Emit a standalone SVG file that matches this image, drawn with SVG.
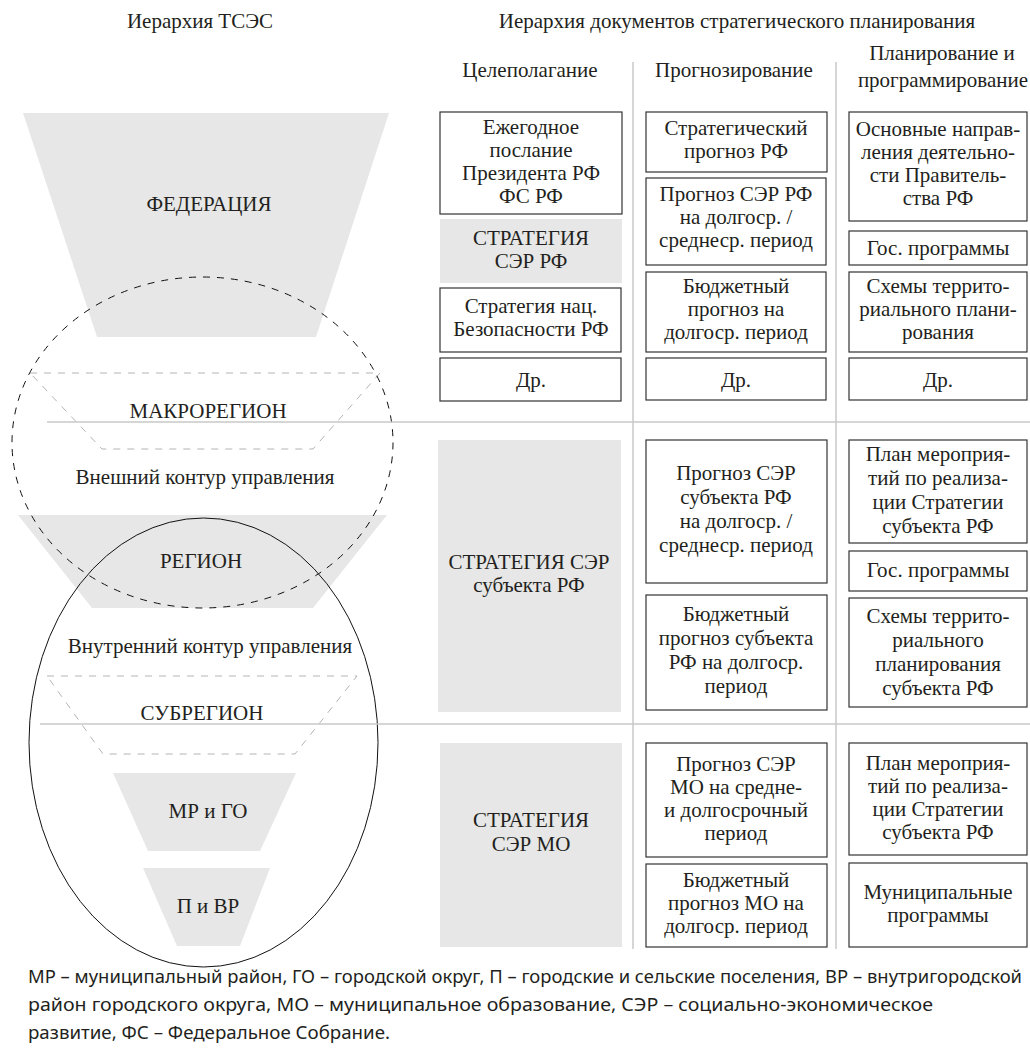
<svg xmlns="http://www.w3.org/2000/svg" width="1030" height="1050" viewBox="0 0 1030 1050">
<style>
.t{font-family:'Liberation Serif','Times New Roman',serif;font-size:21px;fill:#231f20;text-anchor:middle}
.fn{font-family:'Noto Sans','Open Sans',sans-serif;font-size:18px;fill:#231f20}
.box{fill:#fff;stroke:#333;stroke-width:1.2}
.gbox{fill:#e6e7e6;stroke:none}
.trap{fill:#e6e7e6;stroke:none}
.dtrap{fill:none;stroke:#b4b4b4;stroke-width:1;stroke-dasharray:7 7}
.grid{stroke:#c8c8c8;stroke-width:1.5;fill:none}
</style>
<rect width="1030" height="1050" fill="#fff"/>

<!-- left hierarchy -->
<g id="left-title"><text class="t" x="200" y="28">Иерархия ТСЭС</text></g>
<g id="federation">
<polygon class="trap" points="23,113 389,113 316,337 97,337"/>
<text class="t" x="209" y="211">ФЕДЕРАЦИЯ</text>
</g>
<g id="macroregion">
<polygon class="dtrap" points="30,373 380,373 313,449 102,449"/>
<text class="t" x="208" y="418">МАКРОРЕГИОН</text>
</g>
<g id="outer-contour-label"><text class="t" x="205" y="484">Внешний контур управления</text></g>
<g id="region">
<polygon class="trap" points="18,515 387,515 313,608 92,608"/>
<text class="t" x="201" y="568">РЕГИОН</text>
</g>
<g id="inner-contour-label"><text class="t" x="210" y="653">Внутренний контур управления</text></g>
<g id="subregion">
<polygon class="dtrap" points="47,676 357,676 295,754 103,754"/>
<text class="t" x="202" y="720">СУБРЕГИОН</text>
</g>
<g id="mr-go">
<polygon class="trap" points="113,773 296,773 260,851 148,851"/>
<text class="t" x="208" y="818">МР и ГО</text>
</g>
<g id="p-vr">
<polygon class="trap" points="143,868 270,868 240,946 177,946"/>
<text class="t" x="208" y="913">П и ВР</text>
</g>
<g id="outer-contour">
<ellipse cx="202.5" cy="442.5" rx="190.5" ry="165.5" fill="none" stroke="#111" stroke-width="1" stroke-dasharray="7 7"/>
</g>
<g id="inner-contour">
<ellipse cx="203.5" cy="742.5" rx="174.5" ry="224.5" fill="none" stroke="#111" stroke-width="1"/>
</g>

<!-- grid (connectors / separators) -->
<g id="connectors">
<line class="grid" x1="633" y1="62" x2="633" y2="949"/>
<line class="grid" x1="836" y1="62" x2="836" y2="949"/>
<line class="grid" x1="47" y1="422" x2="1030" y2="422"/>
<line class="grid" x1="40" y1="724" x2="1030" y2="724"/>
</g>

<!-- right headers -->
<g id="right-title"><text class="t" x="737" y="28">Иерархия документов стратегического планирования</text></g>
<g id="h-goal"><text class="t" x="530" y="77">Целеполагание</text></g>
<g id="h-forecast"><text class="t" x="734" y="77">Прогнозирование</text></g>
<g id="h-plan"><text class="t" x="942" y="60">Планирование и</text><text class="t" x="943" y="87">программирование</text></g>

<!-- row 1 col 1 -->
<g id="r1c1a"><rect class="box" x="440" y="112" width="182" height="102"/>
<text class="t" x="531" y="134">Ежегодное</text><text class="t" x="531" y="157">послание</text><text class="t" x="531" y="180">Президента РФ</text><text class="t" x="531" y="203">ФС РФ</text></g>
<g id="r1c1b"><rect class="gbox" x="440" y="219" width="182" height="64"/>
<text class="t" x="531" y="245">СТРАТЕГИЯ</text><text class="t" x="531" y="268">СЭР РФ</text></g>
<g id="r1c1c"><rect class="box" x="440" y="288" width="181" height="64"/>
<text class="t" x="531" y="313">Стратегия нац.</text><text class="t" x="531" y="336">Безопасности РФ</text></g>
<g id="r1c1d"><rect class="box" x="440" y="358" width="181" height="43"/>
<text class="t" x="531" y="387">Др.</text></g>

<!-- row 1 col 2 -->
<g id="r1c2a"><rect class="box" x="646" y="112" width="181" height="60"/>
<text class="t" x="736" y="135">Стратегический</text><text class="t" x="736" y="158">прогноз РФ</text></g>
<g id="r1c2b"><rect class="box" x="646" y="178" width="180" height="87"/>
<text class="t" x="736" y="201">Прогноз СЭР РФ</text><text class="t" x="736" y="224">на долгоср. /</text><text class="t" x="736" y="247">среднеср. период</text></g>
<g id="r1c2c"><rect class="box" x="646" y="272" width="180" height="80"/>
<text class="t" x="736" y="293">Бюджетный</text><text class="t" x="736" y="316">прогноз на</text><text class="t" x="736" y="339">долгоср. период</text></g>
<g id="r1c2d"><rect class="box" x="646" y="358" width="180" height="42"/>
<text class="t" x="736" y="387">Др.</text></g>

<!-- row 1 col 3 -->
<g id="r1c3a"><rect class="box" x="849" y="112" width="178" height="109"/>
<text class="t" x="938" y="136">Основные направ-</text><text class="t" x="938" y="159">ления деятельно-</text><text class="t" x="938" y="182">сти Правитель-</text><text class="t" x="938" y="205">ства РФ</text></g>
<g id="r1c3b"><rect class="box" x="849" y="231" width="178" height="34"/>
<text class="t" x="938" y="255">Гос. программы</text></g>
<g id="r1c3c"><rect class="box" x="849" y="272" width="178" height="80"/>
<text class="t" x="938" y="293">Схемы террито-</text><text class="t" x="938" y="316">риального плани-</text><text class="t" x="938" y="339">рования</text></g>
<g id="r1c3d"><rect class="box" x="849" y="358" width="178" height="42"/>
<text class="t" x="938" y="387">Др.</text></g>

<!-- row 2 -->
<g id="r2c1"><rect class="gbox" x="438" y="440" width="183" height="272"/>
<text class="t" x="529" y="569">СТРАТЕГИЯ СЭР</text><text class="t" x="529" y="592">субъекта РФ</text></g>
<g id="r2c2a"><rect class="box" x="646" y="440" width="181" height="143"/>
<text class="t" x="736" y="480">Прогноз СЭР</text><text class="t" x="736" y="504">субъекта РФ</text><text class="t" x="736" y="528">на долгоср. /</text><text class="t" x="736" y="552">среднеср. период</text></g>
<g id="r2c2b"><rect class="box" x="646" y="595" width="181" height="115"/>
<text class="t" x="736" y="621">Бюджетный</text><text class="t" x="736" y="645">прогноз субъекта</text><text class="t" x="736" y="669">РФ на долгоср.</text><text class="t" x="736" y="693">период</text></g>
<g id="r2c3a"><rect class="box" x="849" y="440" width="178" height="103"/>
<text class="t" x="938" y="461">План мероприя-</text><text class="t" x="938" y="485">тий по реализа-</text><text class="t" x="938" y="509">ции Стратегии</text><text class="t" x="938" y="533">субъекта РФ</text></g>
<g id="r2c3b"><rect class="box" x="849" y="551" width="178" height="40"/>
<text class="t" x="938" y="577">Гос. программы</text></g>
<g id="r2c3c"><rect class="box" x="849" y="598" width="178" height="109"/>
<text class="t" x="938" y="623">Схемы террито-</text><text class="t" x="938" y="647">риального</text><text class="t" x="938" y="671">планирования</text><text class="t" x="938" y="695">субъекта РФ</text></g>

<!-- row 3 -->
<g id="r3c1"><rect class="gbox" x="440" y="743" width="182" height="204"/>
<text class="t" x="531" y="827">СТРАТЕГИЯ</text><text class="t" x="531" y="851">СЭР МО</text></g>
<g id="r3c2a"><rect class="box" x="646" y="743" width="181" height="114"/>
<text class="t" x="736" y="771">Прогноз СЭР</text><text class="t" x="736" y="794">МО на средне-</text><text class="t" x="736" y="817">и долгосрочный</text><text class="t" x="736" y="840">период</text></g>
<g id="r3c2b"><rect class="box" x="646" y="864" width="181" height="83"/>
<text class="t" x="736" y="887">Бюджетный</text><text class="t" x="736" y="910">прогноз МО на</text><text class="t" x="736" y="933">долгоср. период</text></g>
<g id="r3c3a"><rect class="box" x="849" y="743" width="178" height="112"/>
<text class="t" x="938" y="770">План мероприя-</text><text class="t" x="938" y="793">тий по реализа-</text><text class="t" x="938" y="816">ции Стратегии</text><text class="t" x="938" y="839">субъекта РФ</text></g>
<g id="r3c3b"><rect class="box" x="849" y="863" width="178" height="84"/>
<text class="t" x="938" y="899">Муниципальные</text><text class="t" x="938" y="922">программы</text></g>

<!-- footnote -->
<g id="footnote">
<text class="fn" x="28" y="983" textLength="994" lengthAdjust="spacingAndGlyphs">МР – муниципальный район, ГО – городской округ, П – городские и сельские поселения, ВР – внутригородской</text>
<text class="fn" x="28" y="1011" textLength="905" lengthAdjust="spacingAndGlyphs">район городского округа, МО – муниципальное образование, СЭР – социально-экономическое</text>
<text class="fn" x="28" y="1039" textLength="362" lengthAdjust="spacingAndGlyphs">развитие, ФС – Федеральное Собрание.</text>
</g>
</svg>
